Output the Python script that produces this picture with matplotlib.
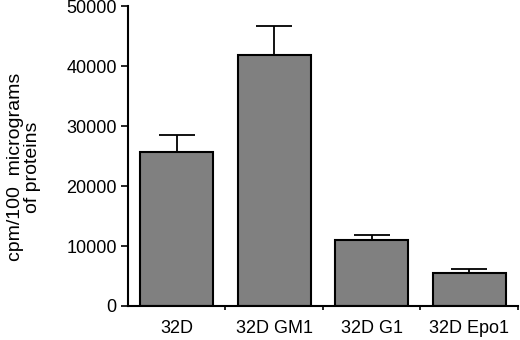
import matplotlib
matplotlib.use("Agg")
import matplotlib.pyplot as plt
import numpy as np

# данные
categories = ["32D", "32D GM1", "32D G1", "32D Epo1"]
values = [25700, 41900, 11000, 5550]
errors = [2800, 4750, 830, 670]
y_ticks = [0, 10000, 20000, 30000, 40000, 50000]

plt.rcParams["font.family"] = ["Liberation Sans", "DejaVu Sans"]

fig = plt.figure(figsize=(5.2, 3.4), dpi=100)
ax = fig.add_axes([0.246, 0.1, 0.75, 0.882])

x = np.arange(len(categories))
ax.bar(x, values, width=0.75, color="#808080", edgecolor="black", linewidth=1.5, zorder=2)
ax.errorbar(x, values, yerr=[[0] * len(values), errors], fmt="none", ecolor="black",
            elinewidth=1.3, capsize=13, capthick=1.3, zorder=1)

ax.set_xlim(-0.5, len(categories) - 0.5)
ax.set_ylim(0, 50000)
ax.set_yticks(y_ticks)
ax.set_yticklabels([str(t) for t in y_ticks], fontsize=13)

# подписи категорий без делений, деления между столбцами
ax.set_xticks(x)
ax.set_xticklabels(categories, fontsize=13)
ax.tick_params(axis="x", length=0, pad=10)
ax.set_xticks(np.arange(len(categories)) + 0.5, minor=True)
ax.tick_params(axis="x", which="minor", length=3, width=1.2, direction="out")
ax.tick_params(axis="y", length=5, width=1.2, direction="out", pad=3)

for s in ["top", "right"]:
    ax.spines[s].set_visible(False)
for s in ["left", "bottom"]:
    ax.spines[s].set_linewidth(1.5)

ax.set_ylabel("cpm/100  micrograms\nof proteins", fontsize=14, linespacing=1.0)
ax.yaxis.set_label_coords(-0.222, 0.463)

fig.savefig("out.png", dpi=100)
